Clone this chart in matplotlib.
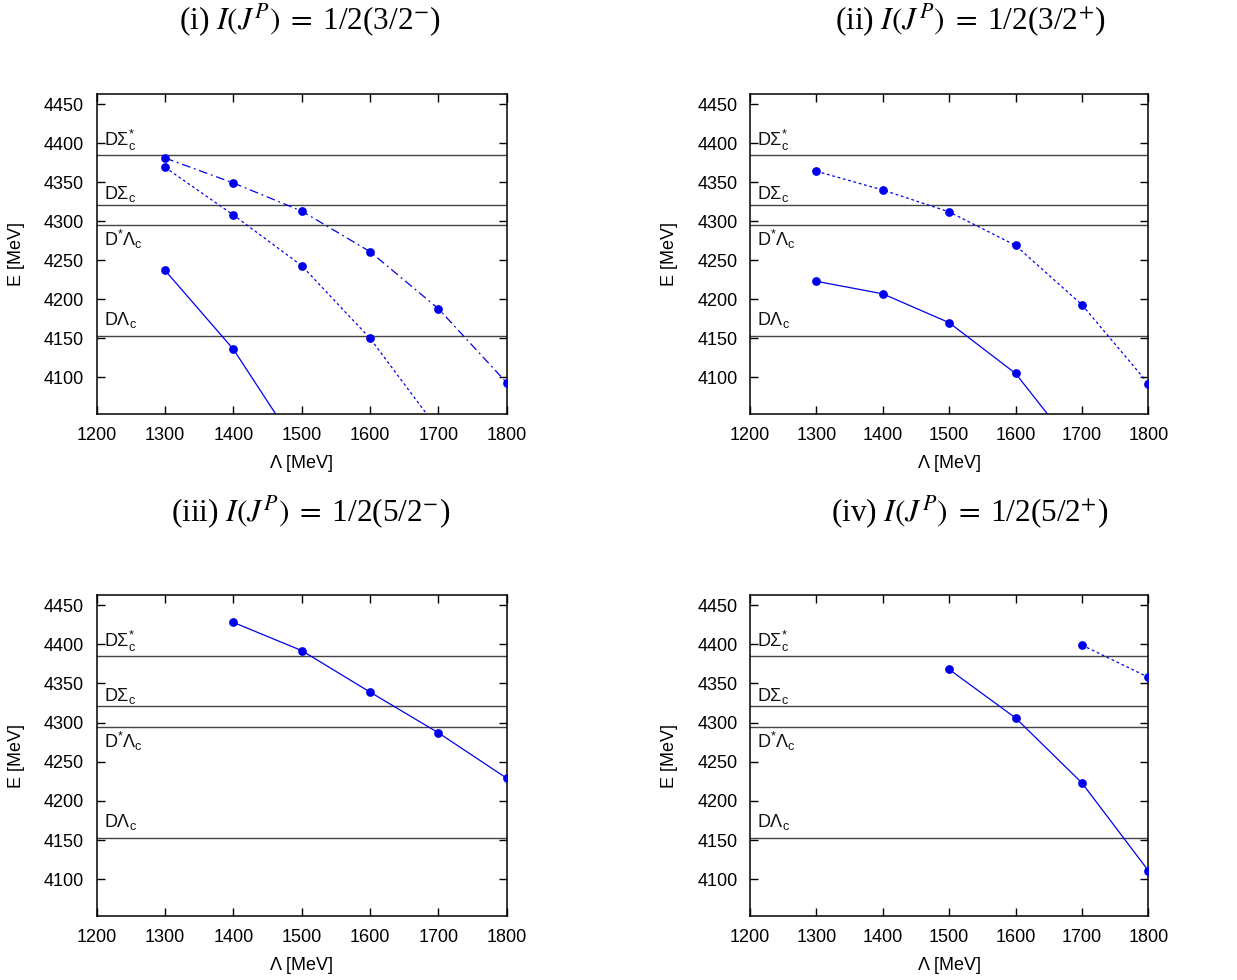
import matplotlib
matplotlib.use("Agg")
import matplotlib.pyplot as plt
import numpy as np

plt.rcParams['font.family'] = ['Liberation Sans', 'DejaVu Sans']
plt.rcParams['mathtext.rm'] = 'Liberation Sans'
plt.rcParams['mathtext.it'] = 'Liberation Sans:italic'
plt.rcParams['mathtext.bf'] = 'Liberation Sans:bold'

# ---------------- data ----------------
# thresholds (MeV)
thr_names = ['DΣ$^{*}_{\\mathrm{c}}$', 'DΣ$_{\\mathrm{c}}$', 'D$^{*}$Λ$_{\\mathrm{c}}$', 'DΛ$_{\\mathrm{c}}$']
thr_values = [4385, 4321, 4295, 4153]
thr_label_y = [4397, 4328, 4268, 4167]

# (i) 1/2(3/2-)
p1_x_a = [1300, 1400, 1500]
p1_y_a = [4237, 4136, 4002]
p1_x_b = [1300, 1400, 1500, 1600, 1700]
p1_y_b = [4369, 4308, 4243, 4150, 4033]
p1_x_c = [1300, 1400, 1500, 1600, 1700, 1800]
p1_y_c = [4381, 4349, 4313, 4261, 4188, 4093]

# (ii) 1/2(3/2+)
p2_x_a = [1300, 1400, 1500, 1600, 1700]
p2_y_a = [4223, 4207, 4170, 4105, 3997]
p2_x_b = [1300, 1400, 1500, 1600, 1700, 1800]
p2_y_b = [4364, 4340, 4312, 4269, 4193, 4092]

# (iii) 1/2(5/2-)
p3_x_a = [1400, 1500, 1600, 1700, 1800]
p3_y_a = [4428, 4392, 4339, 4287, 4229]

# (iv) 1/2(5/2+)
p4_x_a = [1500, 1600, 1700, 1800]
p4_y_a = [4368, 4306, 4223, 4111]
p4_x_b = [1700, 1800]
p4_y_b = [4399, 4358]

titles = [r'(i) $I(J^P)\;=\;$1/2(3/2$^{-}$)',
          r'(ii) $I(J^P)\;=\;$1/2(3/2$^{+}$)',
          r'(iii) $I(J^P)\;=\;$1/2(5/2$^{-}$)',
          r'(iv) $I(J^P)\;=\;$1/2(5/2$^{+}$)']

xticks = [1200, 1300, 1400, 1500, 1600, 1700, 1800]
yticks = [4100, 4150, 4200, 4250, 4300, 4350, 4400, 4450]

# ---------------- figure ----------------
W, H = 1237, 980
fig = plt.figure(figsize=(W / 100, H / 100), dpi=100)

def frac(l, r, t, b):
    return [l / W, 1 - b / H, (r - l) / W, (b - t) / H]

rects = [frac(96.7, 506.7, 94, 414), frac(750, 1148.3, 94, 414),
         frac(96.7, 506.7, 595, 916), frac(750, 1148.3, 595, 916)]
title_pos = [(310 / W, 1 - 29.5 / H), (970 / W, 1 - 29.5 / H),
             (311 / W, 1 - 521.5 / H), (970 / W, 1 - 521.5 / H)]

solid = '-'
dotted = (0, (2.2, 2.2))
dashdot = (0, (7, 3, 1.5, 3))

series = [
    [(p1_x_a, p1_y_a, solid), (p1_x_b, p1_y_b, dotted), (p1_x_c, p1_y_c, dashdot)],
    [(p2_x_a, p2_y_a, solid), (p2_x_b, p2_y_b, dotted)],
    [(p3_x_a, p3_y_a, solid)],
    [(p4_x_a, p4_y_a, solid), (p4_x_b, p4_y_b, dotted)],
]

for k in range(4):
    ax = fig.add_axes(rects[k])
    ax.set_xlim(1200, 1800)
    ax.set_ylim(4053, 4463)
    for v in thr_values:
        ax.axhline(v, color='#444444', lw=1.0, zorder=1)
    for name, yl in zip(thr_names, thr_label_y):
        ax.text(1211, yl, name, fontsize=13, va='baseline', ha='left',
                math_fontfamily='custom', color='#111111', zorder=3)
    for xs, ys, ls in series[k]:
        ax.plot(xs, ys, color='#0000ee', lw=0.9, ls=ls, marker='o',
                markersize=6.3, markerfacecolor='#0000ee', markeredgewidth=0,
                zorder=4, clip_on=True)
    ax.set_xticks(xticks)
    ax.set_yticks(yticks)
    ax.tick_params(direction='in', length=6, width=1, top=True, right=True,
                   labelsize=13, pad=9)
    for s in ax.spines.values():
        s.set_linewidth(1.1)
    ax.set_xlabel('Λ [MeV]', fontsize=13, labelpad=8)
    ax.set_ylabel('E [MeV]', fontsize=13, labelpad=14)
    fig.text(title_pos[k][0], title_pos[k][1], titles[k], fontsize=22.5,
             ha='center', va='baseline', family='Liberation Serif',
             math_fontfamily='stix')

fig.savefig('out.png', dpi=100)
